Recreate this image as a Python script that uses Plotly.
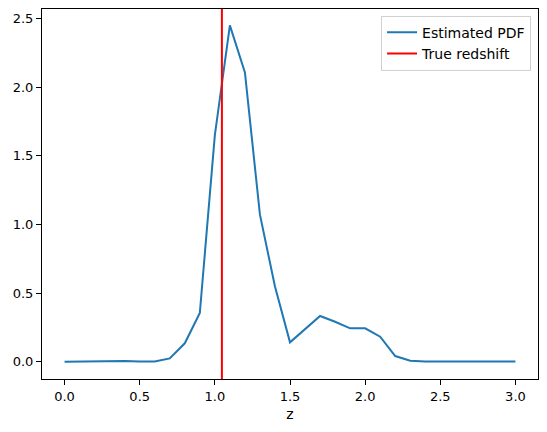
import plotly.graph_objects as go

# redshift grid and estimated PDF values
z_grid = [0.0, 0.1, 0.2, 0.3, 0.4, 0.5, 0.6, 0.7, 0.8, 0.9,
          1.0, 1.1, 1.2, 1.3, 1.4, 1.5, 1.6, 1.7, 1.8, 1.9,
          2.0, 2.1, 2.2, 2.3, 2.4, 2.5, 2.6, 2.7, 2.8, 2.9, 3.0]
pdf_values = [0.0, 0.001, 0.0, 0.004, 0.006, 0.001, 0.001, 0.024, 0.134, 0.355,
              1.65, 2.45, 2.107, 1.071, 0.548, 0.141, 0.238, 0.333, 0.291, 0.243,
              0.243, 0.182, 0.041, 0.007, 0.002, 0.001, 0.001, 0.001, 0.001, 0.001, 0.001]
true_z = 1.047

font_family = "DejaVu Sans"

fig = go.Figure()

# estimated pdf curve
fig.add_trace(go.Scatter(
    x=z_grid,
    y=pdf_values,
    mode="lines",
    name="Estimated PDF",
    line={'color': '#1f77b4', 'width': 2},
))

# true redshift as a vertical line spanning the full axis
fig.add_trace(go.Scatter(
    x=[true_z, true_z],
    y=[0, 1],
    yaxis="y2",
    mode="lines",
    name="True redshift",
    line={'color': 'red', 'width': 2},
))

axis_style = dict(
    showline=True, linecolor="black", linewidth=1, mirror=True,
    ticks="outside", ticklen=5, tickcolor="black",
    showgrid=False, zeroline=False, automargin=False,
    tickfont=dict(family=font_family, size=13, color="black"),
)

# page body has an 8px margin, so the figure is sized to fit the window
fig.update_layout(
    width=539, height=424,
    margin=dict(l=34, r=9, t=1, b=53),
    paper_bgcolor="white", plot_bgcolor="white",
    font=dict(family=font_family, size=13, color="black"),
    xaxis=dict(range=[-0.15, 3.15], tickvals=[0, 0.5, 1, 1.5, 2, 2.5, 3],
               ticktext=["0.0", "0.5", "1.0", "1.5", "2.0", "2.5", "3.0"],
               title=dict(text="z", standoff=6, font=dict(family=font_family, size=14)),
               **axis_style),
    yaxis=dict(range=[-0.126, 2.569], tickvals=[0, 0.5, 1, 1.5, 2, 2.5],
               ticktext=["0.0", "0.5", "1.0", "1.5", "2.0", "2.5"],
               **axis_style),
    yaxis2=dict(overlaying="y", range=[0, 1], visible=False),
    legend=dict(x=0.986, y=0.982, xanchor="right", yanchor="top",
                bordercolor="#d0d0d0", borderwidth=1, bgcolor="white",
                font=dict(family=font_family, size=14), tracegroupgap=0,
                itemwidth=30),
    showlegend=True,
)

fig.write_html("out.html")
